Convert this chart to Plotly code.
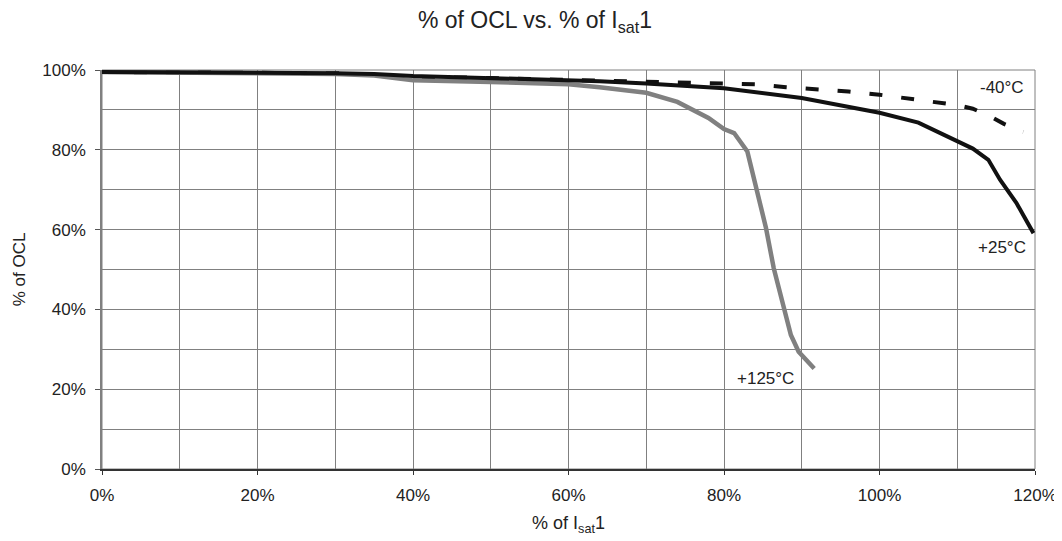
import plotly.graph_objects as go

# Data (values in %)
x_25 = [0, 10, 20, 30, 35, 40, 50, 60, 64, 70, 80, 90, 100, 105, 110, 112, 114, 115.5, 117.6, 119.8]
y_25 = [99.5, 99.5, 99.3, 99.2, 99.0, 98.5, 98.0, 97.5, 97.2, 96.6, 95.4, 93.0, 89.3, 86.8, 82.2, 80.3, 77.5, 72.5, 66.7, 59.1]

x_m40 = [0, 10, 20, 30, 40, 50, 60, 70, 80, 84, 88, 92, 96, 100, 104, 108, 110, 112, 114, 116, 118.5]
y_m40 = [99.5, 99.5, 99.3, 99.2, 98.3, 98.0, 97.5, 97.0, 96.5, 96.4, 95.7, 95.2, 94.6, 93.8, 92.8, 91.8, 91.2, 90.3, 88.6, 86.5, 84.5]

x_125 = [0, 10, 20, 30, 35, 40, 50, 60, 64, 70, 74, 76, 78, 80, 81.3, 83, 84.3, 85.4, 86.4, 87.7, 88.6, 89.6, 91.6]
y_125 = [99.5, 99.4, 99.2, 99.0, 98.6, 97.4, 97.0, 96.4, 95.7, 94.3, 92.0, 90.1, 88.0, 85.2, 84.2, 79.6, 68.8, 60.4, 50.3, 40.3, 33.6, 29.4, 25.2]

labels = ["-40°C", "+25°C", "+125°C"]
label_x = [115.7, 115.7, 85.3]
label_y = [95.5, 55.4, 22.8]

font_family = "Liberation Sans, Arial, sans-serif"
txt = "#222222"

fig = go.Figure()
fig.add_trace(go.Scatter(x=x_m40, y=y_m40, mode="lines", name=labels[0],
                         line=dict(color="#111111", width=4, dash="13px,19px")))
fig.add_trace(go.Scatter(x=x_125, y=y_125, mode="lines", name=labels[2],
                         line=dict(color="#808080", width=4.5)))
fig.add_trace(go.Scatter(x=x_25, y=y_25, mode="lines", name=labels[1],
                         line=dict(color="#111111", width=4)))

for t, lx, ly in zip(labels, label_x, label_y):
    fig.add_annotation(x=lx, y=ly, text=t, showarrow=False, xanchor="center", yanchor="middle",
                       font=dict(size=17, color=txt, family=font_family))

# plot-area border (top/right)
fig.add_shape(type="rect", xref="paper", yref="paper", x0=0, y0=0, x1=1, y1=1,
              line=dict(color="#808080", width=1), layer="below")

fig.update_layout(
    width=1054, height=533,
    margin=dict(l=94, r=27, t=62, b=72),
    paper_bgcolor="white", plot_bgcolor="white",
    showlegend=False,
    font=dict(family=font_family, size=17, color=txt),
    title=dict(text="% of OCL vs. % of I<sub>sat</sub>1",
               x=0.5, xanchor="center",
               y=0.993, yanchor="top", pad=dict(t=0, b=0),
               font=dict(size=23, family=font_family, color=txt)),
    xaxis=dict(range=[0, 120], dtick=20, tick0=0, ticksuffix="%",
               showgrid=True, gridcolor="#808080", gridwidth=1,
               minor=dict(dtick=10, showgrid=True, gridcolor="#808080", gridwidth=1),
               showline=True, linecolor="#333333", linewidth=1.5,
               ticks="outside", ticklen=4, tickcolor="#333333",
               ticklabelstandoff=6,
               zeroline=False, automargin=False,
               title=dict(text="% of I<sub>sat</sub>1",
                          standoff=12, font=dict(size=18))),
    yaxis=dict(range=[0, 100], dtick=20, tick0=0, ticksuffix="%",
               showgrid=True, gridcolor="#808080", gridwidth=1,
               minor=dict(dtick=10, showgrid=True, gridcolor="#808080", gridwidth=1),
               showline=True, linecolor="#808080", linewidth=1.5,
               ticks="outside", ticklen=5, tickcolor="#555555",
               ticklabelstandoff=6,
               zeroline=False, automargin=False,
               title=dict(text="% of OCL", standoff=12, font=dict(size=17))),
)

fig.write_html("out.html")
